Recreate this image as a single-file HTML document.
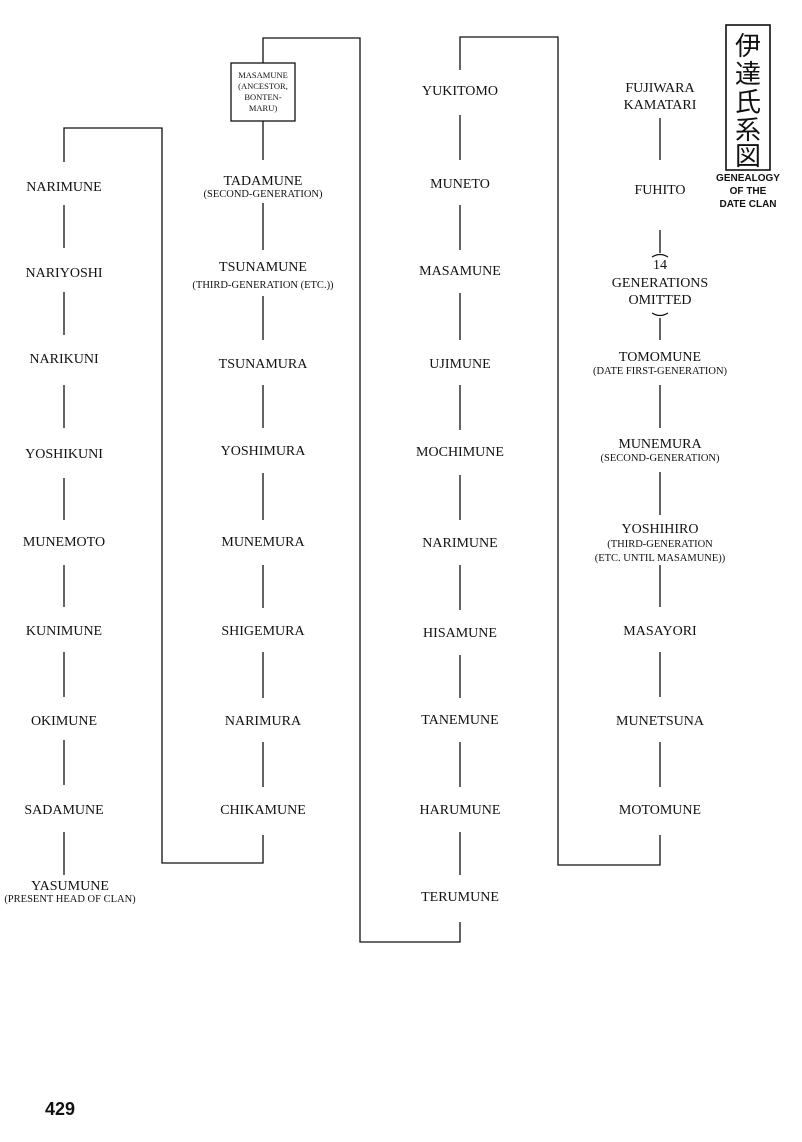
<!DOCTYPE html>
<html><head><meta charset="utf-8"><style>
html,body{margin:0;padding:0;background:#fff;}
svg{display:block}
text{font-family:"Liberation Serif",serif;fill:#111;text-anchor:middle}
.n{font-size:14px}
.s{font-size:10.5px}
</style></head><body>
<svg width="802" height="1142" viewBox="0 0 802 1142">
<g stroke="#111" stroke-width="1.3" fill="none">
<!-- col1 -->
<polyline points="64,162 64,128 162,128 162,863 263,863 263,835"/>
<line x1="64" y1="205" x2="64" y2="248"/>
<line x1="64" y1="292" x2="64" y2="335"/>
<line x1="64" y1="385" x2="64" y2="428"/>
<line x1="64" y1="478" x2="64" y2="520"/>
<line x1="64" y1="565" x2="64" y2="607"/>
<line x1="64" y1="652" x2="64" y2="697"/>
<line x1="64" y1="740" x2="64" y2="785"/>
<line x1="64" y1="832" x2="64" y2="875"/>
<!-- col2 -->
<rect x="231" y="63" width="64" height="58"/>
<line x1="263" y1="121" x2="263" y2="160"/>
<polyline points="263,63 263,38 360,38 360,942 460,942 460,922"/>
<line x1="263" y1="203" x2="263" y2="250"/>
<line x1="263" y1="296" x2="263" y2="340"/>
<line x1="263" y1="385" x2="263" y2="428"/>
<line x1="263" y1="473" x2="263" y2="520"/>
<line x1="263" y1="565" x2="263" y2="608"/>
<line x1="263" y1="652" x2="263" y2="698"/>
<line x1="263" y1="742" x2="263" y2="787"/>
<!-- col3 -->
<polyline points="460,70 460,37 558,37 558,865 660,865 660,835"/>
<line x1="460" y1="115" x2="460" y2="160"/>
<line x1="460" y1="205" x2="460" y2="250"/>
<line x1="460" y1="293" x2="460" y2="340"/>
<line x1="460" y1="385" x2="460" y2="430"/>
<line x1="460" y1="475" x2="460" y2="520"/>
<line x1="460" y1="565" x2="460" y2="610"/>
<line x1="460" y1="655" x2="460" y2="698"/>
<line x1="460" y1="742" x2="460" y2="787"/>
<line x1="460" y1="832" x2="460" y2="875"/>
<!-- col4 -->
<line x1="660" y1="118" x2="660" y2="160"/>
<line x1="660" y1="230" x2="660" y2="253"/>
<path d="M652,257 Q660,252 668,257"/>
<path d="M652,313 Q660,318 668,313"/>
<line x1="660" y1="318" x2="660" y2="340"/>
<line x1="660" y1="385" x2="660" y2="428"/>
<line x1="660" y1="472" x2="660" y2="515"/>
<line x1="660" y1="565" x2="660" y2="607"/>
<line x1="660" y1="652" x2="660" y2="697"/>
<line x1="660" y1="742" x2="660" y2="787"/>
<rect x="726" y="25" width="44" height="145" stroke-width="1.6"/>
</g>
<g class="n">
<text x="64" y="191">NARIMUNE</text>
<text x="64" y="277">NARIYOSHI</text>
<text x="64" y="363">NARIKUNI</text>
<text x="64" y="458">YOSHIKUNI</text>
<text x="64" y="546">MUNEMOTO</text>
<text x="64" y="635">KUNIMUNE</text>
<text x="64" y="725">OKIMUNE</text>
<text x="64" y="814">SADAMUNE</text>
<text x="70" y="890">YASUMUNE</text>
<text x="263" y="185">TADAMUNE</text>
<text x="263" y="271">TSUNAMUNE</text>
<text x="263" y="368">TSUNAMURA</text>
<text x="263" y="455">YOSHIMURA</text>
<text x="263" y="546">MUNEMURA</text>
<text x="263" y="635">SHIGEMURA</text>
<text x="263" y="725">NARIMURA</text>
<text x="263" y="814">CHIKAMUNE</text>
<text x="460" y="95">YUKITOMO</text>
<text x="460" y="188">MUNETO</text>
<text x="460" y="275">MASAMUNE</text>
<text x="460" y="368">UJIMUNE</text>
<text x="460" y="456">MOCHIMUNE</text>
<text x="460" y="547">NARIMUNE</text>
<text x="460" y="637">HISAMUNE</text>
<text x="460" y="724">TANEMUNE</text>
<text x="460" y="814">HARUMUNE</text>
<text x="460" y="901">TERUMUNE</text>
<text x="660" y="92">FUJIWARA</text>
<text x="660" y="109">KAMATARI</text>
<text x="660" y="194">FUHITO</text>
<text x="660" y="269">14</text>
<text x="660" y="287">GENERATIONS</text>
<text x="660" y="304">OMITTED</text>
<text x="660" y="361">TOMOMUNE</text>
<text x="660" y="448">MUNEMURA</text>
<text x="660" y="533">YOSHIHIRO</text>
<text x="660" y="635">MASAYORI</text>
<text x="660" y="725">MUNETSUNA</text>
<text x="660" y="814">MOTOMUNE</text>
</g>
<g class="s">
<text x="70" y="902">(PRESENT HEAD OF CLAN)</text>
<text x="263" y="197">(SECOND-GENERATION)</text>
<text x="263" y="288">(THIRD-GENERATION (ETC.))</text>
<text x="660" y="374">(DATE FIRST-GENERATION)</text>
<text x="660" y="461">(SECOND-GENERATION)</text>
<text x="660" y="547">(THIRD-GENERATION</text>
<text x="660" y="561">(ETC. UNTIL MASAMUNE))</text>
</g>
<g style="font-size:8.5px">
<text x="263" y="78">MASAMUNE</text>
<text x="263" y="89">(ANCESTOR,</text>
<text x="263" y="100">BONTEN-</text>
<text x="263" y="111">MARU)</text>
</g>
<g style="font-family:'Noto Sans CJK JP',sans-serif;font-size:26px">
<text x="748" y="55" style="font-family:'Noto Sans CJK JP',sans-serif">伊</text>
<text x="748" y="83" style="font-family:'Noto Sans CJK JP',sans-serif">達</text>
<text x="748" y="111" style="font-family:'Noto Sans CJK JP',sans-serif">氏</text>
<text x="748" y="139" style="font-family:'Noto Sans CJK JP',sans-serif">系</text>
<text x="748" y="165" style="font-family:'Noto Sans CJK JP',sans-serif">図</text>
</g>
<g style="font-size:10px;font-weight:bold">
<text x="748" y="181" style="font-family:'Liberation Sans',sans-serif">GENEALOGY</text>
<text x="748" y="194" style="font-family:'Liberation Sans',sans-serif">OF THE</text>
<text x="748" y="207" style="font-family:'Liberation Sans',sans-serif">DATE CLAN</text>
</g>
<text x="60" y="1115" style="font-family:'Liberation Sans',sans-serif;font-size:18px;font-weight:bold">429</text>
</svg>
</body></html>
